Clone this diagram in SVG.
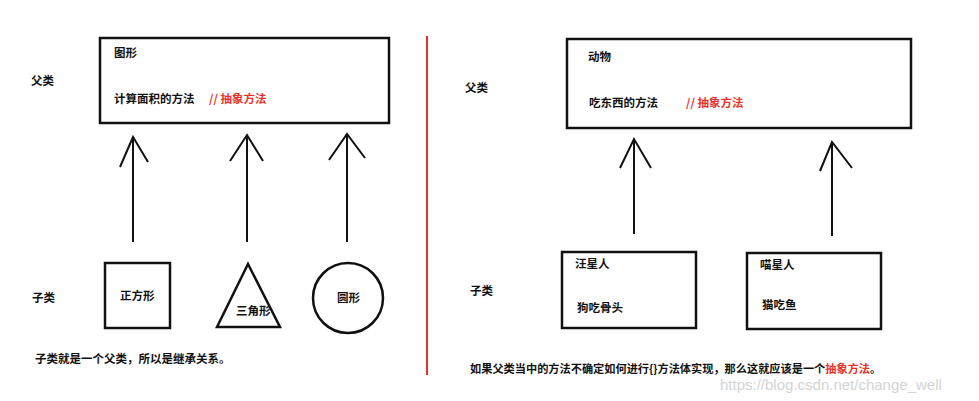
<svg xmlns="http://www.w3.org/2000/svg" width="979" height="401" viewBox="0 0 979 401">
<style>
  .t { font-family: "Noto Sans CJK SC", "Liberation Sans", sans-serif; font-size: 11.5px; font-weight: bold; fill: #111; }
  .r { fill: #e8322a; }
  .box { fill: #fff; stroke: #111; stroke-width: 2.5; }
  .shape { fill: none; stroke: #111; stroke-width: 2.5; }
  .conn line, .conn polyline { stroke: #111; stroke-width: 2; fill: none; }
  .wm { font-family: "Liberation Sans", sans-serif; font-size: 15px; fill: #d4d4d4; }
</style>
<rect width="979" height="401" fill="#fff"/>

<line x1="427" y1="36" x2="427" y2="375" stroke="#e8322a" stroke-width="2"/>

<text class="t" x="31" y="85">父类</text>
<text class="t" x="32" y="302">子类</text>
<text class="t" x="465" y="92">父类</text>
<text class="t" x="470" y="295">子类</text>

<g id="shape-parent">
  <rect class="box" x="100" y="38" width="289" height="85"/>
  <text class="t" x="114" y="57">图形</text>
  <text class="t" x="114" y="103">计算面积的方法</text>
  <text class="t r" x="209" y="103">// 抽象方法</text>
</g>

<g id="square">
  <rect class="shape" x="105" y="263" width="65" height="65"/>
  <text class="t" x="120" y="300">正方形</text>
</g>

<g id="triangle">
  <polygon class="shape" points="248,264 217,327 280,327"/>
  <text class="t" x="236" y="315">三角形</text>
</g>

<g id="circle">
  <circle class="shape" cx="348" cy="298" r="35"/>
  <text class="t" x="337" y="302">圆形</text>
</g>

<g id="animal-parent">
  <rect class="box" x="567" y="39" width="344" height="89"/>
  <text class="t" x="588" y="61">动物</text>
  <text class="t" x="589" y="107">吃东西的方法</text>
  <text class="t r" x="686" y="107">// 抽象方法</text>
</g>

<g id="dog">
  <rect class="box" x="562" y="252" width="134" height="76"/>
  <text class="t" x="575" y="268">汪星人</text>
  <text class="t" x="577" y="312">狗吃骨头</text>
</g>

<g id="cat">
  <rect class="box" x="747" y="253" width="134" height="76"/>
  <text class="t" x="760" y="269">喵星人</text>
  <text class="t" x="762" y="309">猫吃鱼</text>
</g>

<g id="connectors" class="conn">
  <line x1="133" y1="242" x2="133" y2="137"/>
  <polyline points="120,167 133,137 148,162"/>
  <line x1="247" y1="242" x2="247" y2="135"/>
  <polyline points="230,161 247,135 263,161"/>
  <line x1="347" y1="242" x2="347" y2="134"/>
  <polyline points="329,160 347,134 365,158"/>
  <line x1="634" y1="234" x2="634" y2="139"/>
  <polyline points="620,168 634,139 651,168"/>
  <line x1="832" y1="236" x2="832" y2="142"/>
  <polyline points="820,171 832,142 852,168"/>
</g>

<text class="t" x="35" y="363">子类就是一个父类，所以是继承关系。</text>
<text class="t" x="470" y="373" style="font-size:11.2px">如果父类当中的方法不确定如何进行{}方法体实现，那么这就应该是一个<tspan class="r">抽象方法</tspan>。</text>
<text class="wm" x="720" y="390">https://blog.csdn.net/change_well</text>
</svg>
